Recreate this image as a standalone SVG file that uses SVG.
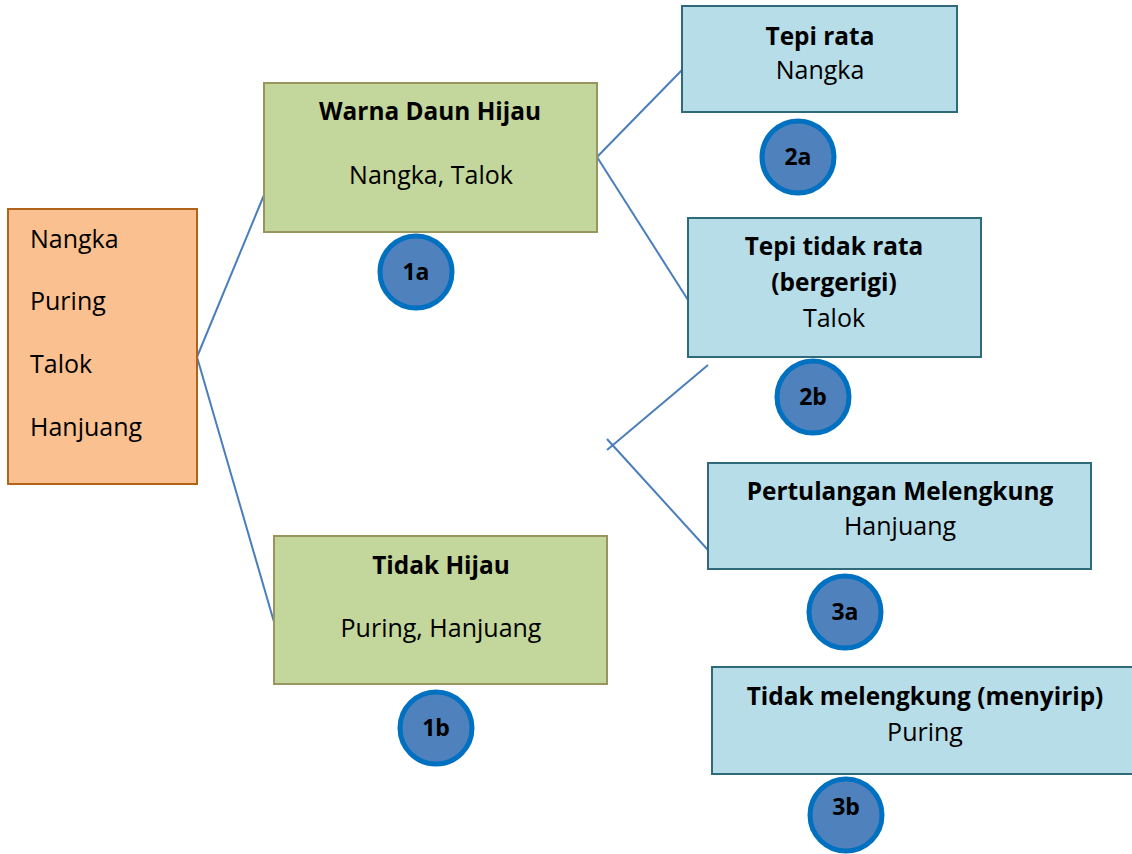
<svg xmlns="http://www.w3.org/2000/svg" width="1132" height="854" viewBox="0 0 1132 854">
  <style>
    text { font-family: "Open Sans", "Noto Sans", sans-serif; font-size: 25px; fill: #000; }
    .b { font-weight: bold; font-size: 24.4px; }
    .c { text-anchor: middle; }
    .n { font-size: 23px; }
    .root { fill: #FAC090; stroke: #B3621C; stroke-width: 2; }
    .green { fill: #C3D69B; stroke: #98965E; stroke-width: 2; }
    .blue { fill: #B7DDE8; stroke: #2E6A7A; stroke-width: 2; }
    .badge { fill: #4F81BD; stroke: #0070C0; stroke-width: 5; }
    .link { fill: none; stroke: #4A7EBB; stroke-width: 2; }
  </style>

  <!-- connectors -->
  <g id="connectors">
    <line class="link" x1="197" y1="357" x2="264" y2="195"/>
    <line class="link" x1="197" y1="357" x2="274" y2="622"/>
    <line class="link" x1="597" y1="157" x2="682" y2="70"/>
    <line class="link" x1="597" y1="157" x2="688" y2="300"/>
    <line class="link" x1="708" y1="365" x2="607" y2="450"/>
    <line class="link" x1="607" y1="439" x2="708" y2="550"/>
  </g>

  <!-- starting set of plants -->
  <g id="node-root">
    <rect class="root" x="8" y="209" width="189" height="275"/>
    <text x="30" y="248">Nangka</text>
    <text x="30" y="310">Puring</text>
    <text x="30" y="373">Talok</text>
    <text x="30" y="436">Hanjuang</text>
  </g>

  <!-- level 1 -->
  <g id="node-1a">
    <rect class="green" x="264" y="83" width="333" height="149"/>
    <text class="b c" x="430" y="120">Warna Daun Hijau</text>
    <text class="c" x="431" y="184">Nangka, Talok</text>
  </g>
  <g id="badge-1a">
    <circle class="badge" cx="416" cy="272" r="36"/>
    <text class="b c n" x="416" y="280">1a</text>
  </g>

  <g id="node-1b">
    <rect class="green" x="274" y="536" width="333" height="148"/>
    <text class="b c" x="441" y="574">Tidak Hijau</text>
    <text class="c" x="441" y="637">Puring, Hanjuang</text>
  </g>
  <g id="badge-1b">
    <circle class="badge" cx="436" cy="728" r="36"/>
    <text class="b c n" x="436" y="736">1b</text>
  </g>

  <!-- level 2 -->
  <g id="node-2a">
    <rect class="blue" x="682" y="6" width="275" height="106"/>
    <text class="b c" x="820" y="45">Tepi rata</text>
    <text class="c" x="820" y="79">Nangka</text>
  </g>
  <g id="badge-2a">
    <circle class="badge" cx="798" cy="157" r="36"/>
    <text class="b c n" x="798" y="165">2a</text>
  </g>

  <g id="node-2b">
    <rect class="blue" x="688" y="218" width="293" height="139"/>
    <text class="b c" x="834" y="255">Tepi tidak rata</text>
    <text class="b c" x="834" y="291">(bergerigi)</text>
    <text class="c" x="834" y="327">Talok</text>
  </g>
  <g id="badge-2b">
    <circle class="badge" cx="813" cy="397" r="36"/>
    <text class="b c n" x="813" y="405">2b</text>
  </g>

  <!-- level 3 -->
  <g id="node-3a">
    <rect class="blue" x="708" y="463" width="383" height="106"/>
    <text class="b c" x="900" y="500">Pertulangan Melengkung</text>
    <text class="c" x="900" y="535">Hanjuang</text>
  </g>
  <g id="badge-3a">
    <circle class="badge" cx="845" cy="612" r="36"/>
    <text class="b c n" x="845" y="620">3a</text>
  </g>

  <g id="node-3b">
    <rect class="blue" x="712" y="667" width="425" height="107"/>
    <text class="b c" x="925" y="705">Tidak melengkung (menyirip)</text>
    <text class="c" x="925" y="741">Puring</text>
  </g>
  <g id="badge-3b">
    <circle class="badge" cx="846" cy="815" r="36"/>
    <text class="b c n" x="846" y="815">3b</text>
  </g>
</svg>
